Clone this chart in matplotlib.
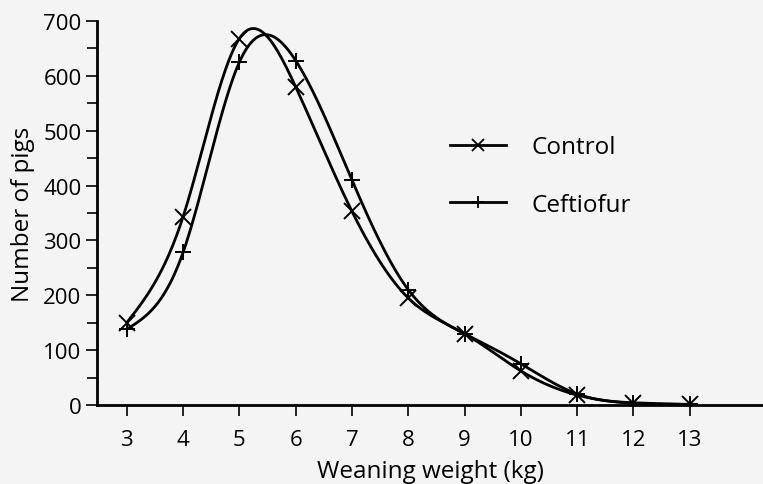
import numpy as np
import matplotlib
matplotlib.use("Agg")
import matplotlib.pyplot as plt
from matplotlib.lines import Line2D

weights = [3, 4, 5, 6, 7, 8, 9, 10, 11, 12, 13]
control = [150, 343, 668, 580, 353, 195, 130, 62, 18, 3, 1]
ceftiofur = [138, 278, 625, 628, 410, 210, 130, 75, 20, 4, 1]
yticks = [0, 100, 200, 300, 400, 500, 600, 700]


def natural_spline(x, y, n=600):
    x = np.asarray(x, float)
    y = np.asarray(y, float)
    k = len(x)
    h = np.diff(x)
    A = np.zeros((k, k))
    b = np.zeros(k)
    A[0, 0] = 1
    A[-1, -1] = 1
    for i in range(1, k - 1):
        A[i, i - 1] = h[i - 1]
        A[i, i] = 2 * (h[i - 1] + h[i])
        A[i, i + 1] = h[i]
        b[i] = 3 * ((y[i + 1] - y[i]) / h[i] - (y[i] - y[i - 1]) / h[i - 1])
    c = np.linalg.solve(A, b)
    xs = np.linspace(x[0], x[-1], n)
    ys = np.empty_like(xs)
    for j, xv in enumerate(xs):
        i = min(np.searchsorted(x, xv, side="right") - 1, k - 2)
        dx = xv - x[i]
        bb = (y[i + 1] - y[i]) / h[i] - h[i] * (2 * c[i] + c[i + 1]) / 3
        d = (c[i + 1] - c[i]) / (3 * h[i])
        ys[j] = y[i] + bb * dx + c[i] * dx ** 2 + d * dx ** 3
    return xs, ys


plt.rcParams["font.family"] = ["Open Sans", "DejaVu Sans"]
bg = "#f4f4f4"
fs_tick = 16
fs_lab = 17.5
fig = plt.figure(figsize=(7.63, 4.85), dpi=100, facecolor=bg)
ax = fig.add_axes([0.127, 0.163, 0.873, 0.7916])
ax.set_facecolor(bg)

lw = 2.0
for ys, mk in [(control, "x"), (ceftiofur, "+")]:
    sx, sy = natural_spline(weights, ys)
    ax.plot(sx, sy, color="black", lw=lw, solid_capstyle="butt")
    ax.plot(weights, ys, linestyle="none", marker=mk, color="black",
            markersize=11, markeredgewidth=1.4)

handles = [Line2D([], [], color="black", lw=lw, marker="x", markersize=8, markeredgewidth=1.3),
           Line2D([], [], color="black", lw=lw, marker="+", markersize=9, markeredgewidth=1.3)]
ax.legend(handles, ["Control", "Ceftiofur"], frameon=False, fontsize=fs_lab,
          loc="center left", bbox_to_anchor=(0.497, 0.596), handlelength=2.3,
          handletextpad=1.07, labelspacing=1.38)

ax.set_xlim(2.47, 14.3)
ax.set_ylim(0, 700)
ax.set_xticks(weights)
ax.set_yticks(yticks)
ax.set_yticks(np.arange(50, 700, 100), minor=True)
for s in ["top", "right"]:
    ax.spines[s].set_visible(False)
for s in ["left", "bottom"]:
    ax.spines[s].set_linewidth(2.0)
ax.tick_params(axis="both", which="major", length=8, width=1.2, labelsize=fs_tick, colors="black")
ax.tick_params(axis="y", which="minor", length=7, width=1.2)
ax.tick_params(axis="x", pad=9)
ax.tick_params(axis="y", pad=3)
ax.set_xlabel("Weaning weight (kg)", fontsize=fs_lab, labelpad=7)
ax.set_ylabel("Number of pigs", fontsize=fs_lab, labelpad=6)

fig.savefig("out.png", dpi=100, facecolor=bg)
